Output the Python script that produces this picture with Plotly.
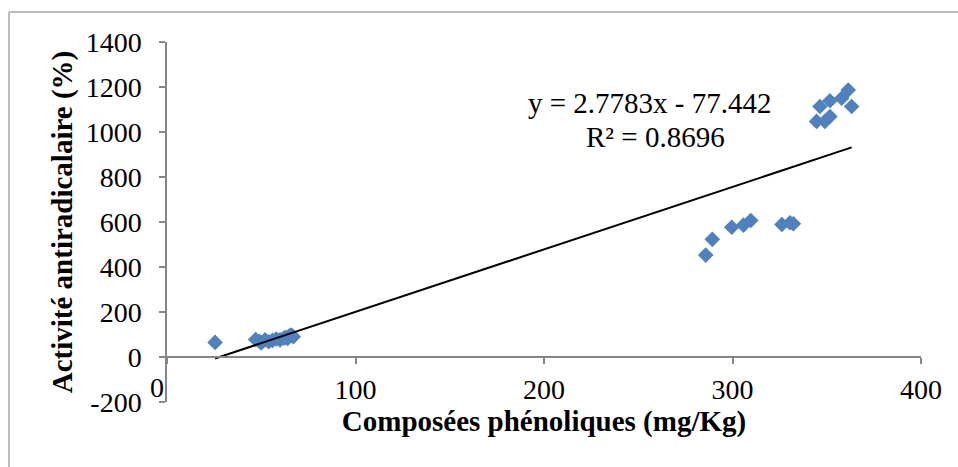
import plotly.graph_objects as go

# Phenolic compounds (mg/Kg) vs antiradical activity (%)
phenols = [25.5,
           47, 49, 50, 52, 54, 56, 58, 60, 62, 63, 64, 65, 66, 67,
           285.8, 289.3, 299.6, 305.8, 309.7, 326.2, 330.5, 332.3,
           344.6, 349.0, 346.4, 351.7, 351.7, 357.9, 361.4, 363.2]
activity = [65,
            78, 70, 62, 76, 68, 74, 80, 76, 84, 88, 82, 94, 98, 90,
            453, 523, 577, 586, 607, 589, 597, 592,
            1047, 1047, 1113, 1069, 1139, 1150, 1187, 1113]

# Linear trendline reported on the chart
slope = 2.7783
intercept = -77.442
r_squared = 0.8696

x_ticks = [0, 100, 200, 300, 400]
y_ticks = [-200, 0, 200, 400, 600, 800, 1000, 1200, 1400]

FONT = "Liberation Serif"
AXIS_GREY = "#868686"

x_lo, x_hi = min(phenols), max(phenols)
trend_x = [x_lo, x_hi]
trend_y = [slope * v + intercept for v in trend_x]

fig = go.Figure()
fig.add_trace(go.Scatter(
    x=phenols, y=activity, mode="markers",
    marker=dict(symbol="diamond", size=12, color="#4F81BD",
                line=dict(width=0)),
    showlegend=False, hoverinfo="x+y"))
fig.add_trace(go.Scatter(
    x=trend_x, y=trend_y, mode="lines",
    line=dict(color="black", width=2),
    showlegend=False, hoverinfo="skip"))
# carrier for the label axis
fig.add_trace(go.Scatter(x=[], y=[], xaxis="x2", yaxis="y",
                         showlegend=False, hoverinfo="skip"))

y_zero_frac = 200 / 1600

fig.update_layout(
    width=958, height=467,
    margin=dict(l=167, r=37, t=42, b=65),
    paper_bgcolor="white", plot_bgcolor="white",
    font=dict(family=FONT, size=28, color="black"),
    xaxis=dict(
        range=[0, 400], tickvals=x_ticks, showticklabels=False,
        showgrid=False, zeroline=False,
        showline=True, linecolor=AXIS_GREY, linewidth=1.5,
        ticks="outside", ticklen=6, tickcolor=AXIS_GREY, tickwidth=1.5,
        anchor="free", position=y_zero_frac,
    ),
    xaxis2=dict(
        range=[0, 400], overlaying="x", matches="x",
        tickvals=x_ticks[1:], ticktext=[str(v) for v in x_ticks[1:]],
        showgrid=False, zeroline=False, showline=False, ticks="",
        anchor="free", position=0.09,
        tickfont=dict(family=FONT, size=28, color="black"),
        title=dict(text="<b>Composées phénoliques (mg/Kg)</b>",
                   font=dict(family=FONT, size=29, color="black"),
                   standoff=0),
    ),
    yaxis=dict(
        range=[-200, 1400], tickvals=y_ticks,
        ticktext=[str(v) for v in y_ticks],
        showgrid=False, zeroline=False,
        showline=True, linecolor=AXIS_GREY, linewidth=1.5,
        ticks="outside", ticklen=6, tickcolor=AXIS_GREY, tickwidth=1.5,
        ticklabelstandoff=12,
        tickfont=dict(family=FONT, size=28, color="black"),
        title=dict(text="<b>Activité antiradicalaire (%)</b>",
                   font=dict(family=FONT, size=29, color="black"),
                   standoff=5),
    ),
    annotations=[
        dict(x=0, y=0, xref="x", yref="paper", text="0", showarrow=False,
             xanchor="center", yanchor="middle", xshift=-10, yshift=15,
             font=dict(family=FONT, size=28, color="black")),
        dict(x=256, y=1130, xref="x", yref="y",
             text=f"y = {slope}x - {abs(intercept)}", showarrow=False,
             xanchor="center", yanchor="middle",
             font=dict(family=FONT, size=29, color="black")),
        dict(x=259, y=979, xref="x", yref="y",
             text=f"R² = {r_squared}", showarrow=False,
             xanchor="center", yanchor="middle",
             font=dict(family=FONT, size=29, color="black")),
    ],
    shapes=[
        dict(type="line", xref="paper", yref="paper",
             x0=-0.2095, x1=1.1, y0=1.0833, y1=1.0833,
             line=dict(color="#A6A6A6", width=1.5)),
        dict(type="line", xref="paper", yref="paper",
             x0=-0.2095, x1=-0.2095, y0=-0.3, y1=1.0833,
             line=dict(color="#A6A6A6", width=1.5)),
    ],
)

fig.write_html("out.html")
